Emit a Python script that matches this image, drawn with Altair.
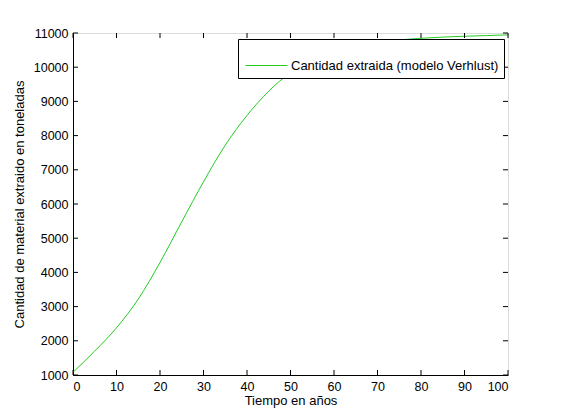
import altair as alt
import pandas as pd

anios = [0, 5, 10, 15, 20, 25, 30, 35, 40, 45, 50, 55, 60, 65, 70, 75, 80, 85, 90, 95, 100]
cantidad = [1080, 1700, 2380, 3220, 4290, 5480, 6650, 7720, 8590, 9300, 9840, 10200,
            10460, 10630, 10740, 10800, 10845, 10880, 10905, 10925, 10945]
serie = "Cantidad extraida (modelo Verhlust)"
x_ticks = [0, 10, 20, 30, 40, 50, 60, 70, 80, 90, 100]
y_ticks = [1000, 2000, 3000, 4000, 5000, 6000, 7000, 8000, 9000, 10000, 11000]

W, H = 435, 342
FONT = "Liberation Sans"
GREEN = "#22cc22"
FS = 12.5
TFS = 13

df = pd.DataFrame({"t": anios, "q": cantidad, "s": [serie] * len(anios)})
dfx = pd.DataFrame({"t": x_ticks})
dfy = pd.DataFrame({"q": y_ticks})

xs = alt.Scale(domain=[0, 100], nice=False)
ys = alt.Scale(domain=[1000, 11000], nice=False, zero=False)

common = dict(tickSize=0, labelPadding=5, domainColor="black", grid=False,
              titleFontWeight="normal", labelOverlap=False, format="d",
              labelFont=FONT, titleFont=FONT, labelFontSize=FS, titleFontSize=TFS,
              labelColor="black", titleColor="black")
xaxis = alt.Axis(values=x_ticks, titlePadding=2, **common)
yaxis = alt.Axis(values=y_ticks, titlePadding=7, **common)
xt_title = "Tiempo en años"
yt_title = "Cantidad de material extraido en toneladas"

line = alt.Chart(df).mark_line(strokeWidth=1, interpolate="monotone").encode(
    x=alt.X("t:Q", scale=xs, title=xt_title, axis=xaxis),
    y=alt.Y("q:Q", scale=ys, title=yt_title, axis=yaxis),
    color=alt.Color("s:N", scale=alt.Scale(range=[GREEN]),
                    legend=alt.Legend(title=None, orient="none", legendX=165, legendY=6,
                                      symbolType="stroke", symbolSize=1764, symbolStrokeWidth=1,
                                      symbolOffset=2,
                                      fillColor="white", strokeColor="black", padding=5,
                                      labelFontSize=13, labelFont=FONT, labelColor="black",
                                      labelOffset=3, labelLimit=0)),
)

tick_len = 5
xb = alt.Chart(dfx).mark_rule(color="black").encode(
    x=alt.X("t:Q", scale=xs, title=xt_title, axis=xaxis), y=alt.value(H), y2=alt.value(H - tick_len))
xt = alt.Chart(dfx).mark_rule(color="black").encode(
    x=alt.X("t:Q", scale=xs, title=xt_title, axis=xaxis), y=alt.value(0), y2=alt.value(tick_len))
yl = alt.Chart(dfy).mark_rule(color="black").encode(
    y=alt.Y("q:Q", scale=ys, title=yt_title, axis=yaxis), x=alt.value(0), x2=alt.value(tick_len))
yr = alt.Chart(dfy).mark_rule(color="black").encode(
    y=alt.Y("q:Q", scale=ys, title=yt_title, axis=yaxis), x=alt.value(W), x2=alt.value(W - tick_len))

chart = alt.layer(line, xb, xt, yl, yr).properties(
    width=W, height=H,
    autosize=alt.AutoSizeParams(type="none"),
    padding={"left": 65, "top": 25, "right": 45, "bottom": 37},
).configure_view(stroke="black", strokeWidth=1).configure(background="white")

chart.save("out.html", embed_options={"renderer": "svg", "actions": False})
